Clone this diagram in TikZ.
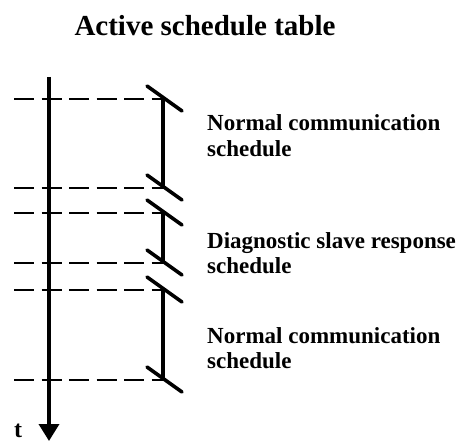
\documentclass[tikz,border=0pt]{standalone}
\usepackage{fontspec}
\setmainfont{Liberation Serif}
\usetikzlibrary{arrows.meta,calc}
\begin{document}
\begin{tikzpicture}[x=1pt,y=-1pt,
  axis/.style={line width=3.6pt,-{Triangle[width=20pt,length=17pt]}},
  bracket/.style={line width=3.6pt},
  tick/.style={line width=3.6pt,line cap=round},
  guide/.style={line width=2.8pt,dash pattern=on 20pt off 7.5pt},
  label/.style={font=\fontsize{23}{25}\selectfont\bfseries,align=left,anchor=base west,inner sep=0pt},
  heading/.style={font=\fontsize{29}{30}\selectfont\bfseries,anchor=base,inner sep=0pt}]
  \useasboundingbox (0,0) rectangle (468,441);

  % title
  \node[heading] (title) at (205,36) {Active schedule table};

  % time axis
  \coordinate (top) at (49,77);
  \coordinate (bottom) at (49,441);
  \draw[axis] (top) -- (bottom);
  \node[font=\fontsize{24}{25}\selectfont\bfseries,anchor=base west,inner sep=0pt] (t) at (14,437) {t};

  % schedule boundaries: left end of each guide and the matching bracket end
  \foreach \n/\y in {a/99,b/188,c/213,d/263,e/290,f/380}{
    \coordinate (l\n) at (14,\y);
    \coordinate (r\n) at (163,\y);
    \draw[guide] (l\n) -- (r\n);
    \draw[tick] ($(r\n)+(-16,-13)$) -- ($(r\n)+(19,12)$);
  }

  % brackets for the three schedules
  \draw[bracket] (ra) -- (rb);
  \draw[bracket] (rc) -- (rd);
  \draw[bracket] (re) -- (rf);

  % schedule names (anchored at the baseline of their last line)
  \node[label] (s1) at (207,156) {Normal communication\\schedule};
  \node[label] (s2) at (207,273) {Diagnostic slave response\\schedule};
  \node[label] (s3) at (207,368) {Normal communication\\schedule};
\end{tikzpicture}
\end{document}
